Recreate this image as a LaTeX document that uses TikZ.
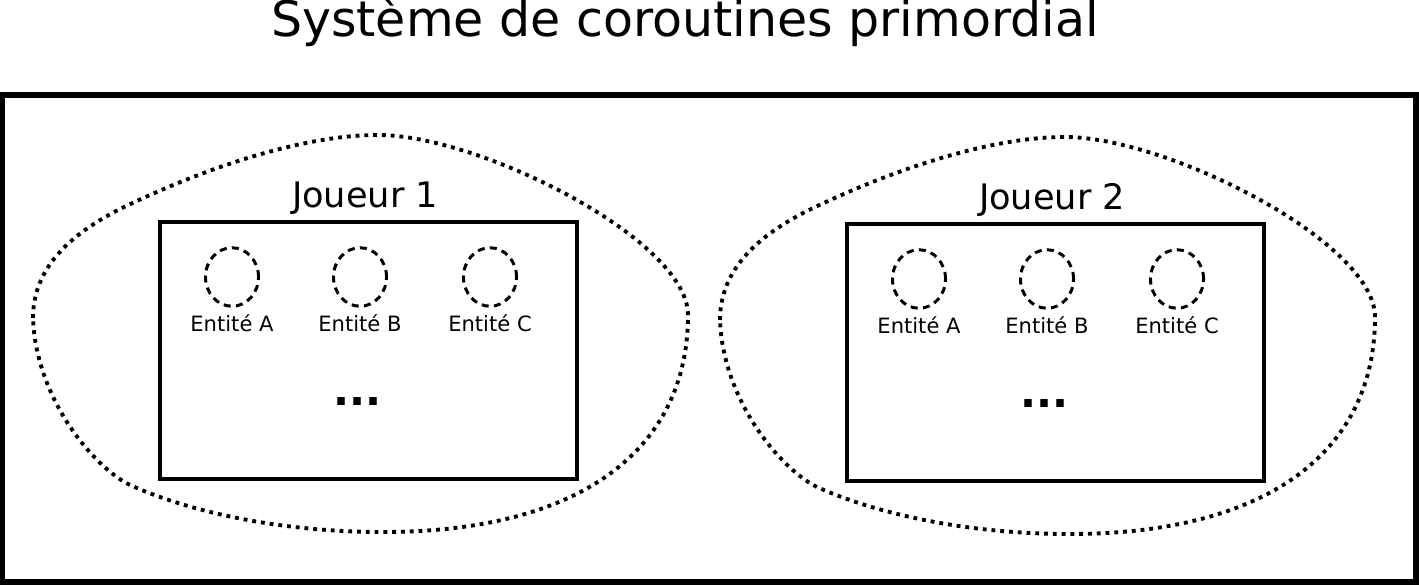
\documentclass[tikz,border=0pt]{standalone}
\usepackage{fontspec}
\setmainfont{DejaVu Sans}
\usepackage{tikz}
\usetikzlibrary{shapes.geometric}
\tikzset{
  titre/.style={anchor=base,inner sep=0,font=\fontsize{27.9}{33}\selectfont},
  joueur/.style={anchor=base,inner sep=0,font=\fontsize{20}{24}\selectfont},
  nom/.style={anchor=base,inner sep=0,font=\fontsize{12}{14}\selectfont},
  points/.style={anchor=base,inner sep=0,font=\fontsize{24}{28}\selectfont\bfseries},
  entite/.style={ellipse,draw,line width=1.7pt,dash pattern=on 4pt off 3pt,minimum width=30.2pt,minimum height=33.3pt,inner sep=0},
  cadre/.style={rectangle,draw,line width=2.2pt,minimum width=237.3pt,minimum height=146.2pt,inner sep=0},
  pointille/.style={line width=2.2pt,dash pattern=on 2.2pt off 2.8pt},
}

\begin{document}
\begin{tikzpicture}[x=0.02cm,y=-0.02cm]
  \useasboundingbox (0,0) rectangle (1419,587);
  \node (titre) at (685,37) [titre] {Système de coroutines primordial};
  \draw [line width=3pt] (2.5,95) rectangle (1416,582);
  \foreach \j/\dx/\dy in {1/0/0,2/687/2} {
    \begin{scope}[shift={(\dx,\dy)}]
      % contour du joueur
      \draw [pointille] (33,318) .. controls (33,265) and (75,232) .. (120,209)
        .. controls (200,170) and (300,135) .. (378,135)
        .. controls (480,135) and (688,240) .. (688,315)
        .. controls (688,450) and (580,532) .. (383,532)
        .. controls (280,532) and (190,512) .. (130,485)
        .. controls (95,468) and (36,400) .. (33,318) -- cycle;
      \node (cadre\j) at (368.5,350.5) [cadre] {};
      \node (joueur\j) at (365,208) [joueur] {Joueur \j};
      \node (ea\j) at (232,277) [entite] {};
      \node (eb\j) at (360,277) [entite] {};
      \node (ec\j) at (490,277) [entite] {};
      \node (na\j) at (232,331.5) [nom] {Entité A};
      \node (nb\j) at (360,331.5) [nom] {Entité B};
      \node (nc\j) at (490,331.5) [nom] {Entité C};
      \node (pts\j) at (357.5,405) [points] {...};
    \end{scope}
  }
\end{tikzpicture}
\end{document}
